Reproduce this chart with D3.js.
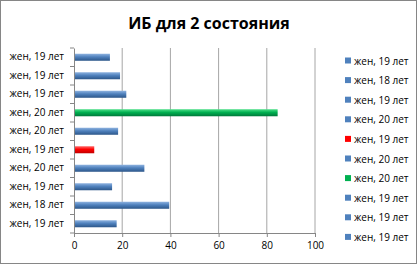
<!DOCTYPE html>
<html>
<head>
<meta charset="utf-8">
<script src="https://cdn.jsdelivr.net/npm/d3@7"></script>
<style>
    body { margin: 0; background: #fff; }
    svg text { font-family: "Open Sans", "Liberation Sans", sans-serif; }
</style>
</head>
<body>
<svg id="chart" width="418" height="265"></svg>
<script>
// категории снизу вверх (как в Excel)
const categories = ["жен, 19 лет", "жен, 18 лет", "жен, 19 лет", "жен, 20 лет", "жен, 19 лет",
                    "жен, 20 лет", "жен, 20 лет", "жен, 19 лет", "жен, 19 лет", "жен, 19 лет"];
const values = [17.7, 39.5, 15.8, 29.2, 8.4, 18.3, 84.5, 21.7, 19.1, 14.9];
const seriesKind = ["blue", "blue", "blue", "blue", "red", "blue", "green", "blue", "blue", "blue"];
const xTicks = [0, 20, 40, 60, 80, 100];
const titleText = "ИБ для 2 состояния";

const palette = {
    blue: ["#8fb3e0", "#4f81bd", "#2c5689"],
    red: ["#ff6a6a", "#ff0000", "#c00000"],
    green: ["#4fe08a", "#00b050", "#00783a"]
};

const svg = d3.select("#chart");
const W = 418, H = 265;
const plot = { left: 74, right: 315, top: 48, bottom: 233 };

// рамка диаграммы
svg.append("rect")
    .attr("x", 0.5).attr("y", 0.5)
    .attr("width", W - 2).attr("height", H - 2)
    .attr("fill", "#fff")
    .attr("stroke", "#868686");

// градиенты для "объёмных" полос
const defs = svg.append("defs");
Object.entries(palette).forEach(([name, c]) => {
    const g = defs.append("linearGradient")
        .attr("id", "grad_" + name)
        .attr("x1", 0).attr("y1", 0).attr("x2", 0).attr("y2", 1);
    g.append("stop").attr("offset", "0%").attr("stop-color", c[0]);
    g.append("stop").attr("offset", "45%").attr("stop-color", c[1]);
    g.append("stop").attr("offset", "100%").attr("stop-color", c[2]);
});

const x = d3.scaleLinear().domain([0, 100]).range([plot.left, plot.right]);
const y = d3.scaleBand().domain(d3.range(categories.length))
    .range([plot.bottom, plot.top]).paddingInner(0.62).paddingOuter(0.31);

// заголовок
svg.append("text")
    .attr("x", 209).attr("y", 29)
    .attr("text-anchor", "middle")
    .style("font-size", "16px").style("font-weight", "bold")
    .text(titleText);

// вертикальная сетка
svg.append("g").selectAll("line")
    .data(xTicks.slice(1))
    .enter().append("line")
    .attr("x1", d => x(d)).attr("x2", d => x(d))
    .attr("y1", plot.top).attr("y2", plot.bottom)
    .attr("stroke", "#a6a6a6").attr("stroke-width", 1);

// полосы
svg.append("g").selectAll("rect")
    .data(values)
    .enter().append("rect")
    .attr("x", x(0))
    .attr("y", (d, i) => y(i))
    .attr("width", d => x(d) - x(0))
    .attr("height", y.bandwidth())
    .attr("fill", (d, i) => "url(#grad_" + seriesKind[i] + ")");

// ось X
const xAxis = svg.append("g")
    .attr("transform", `translate(0,${plot.bottom})`)
    .call(d3.axisBottom(x).tickValues(xTicks).tickSize(4).tickSizeOuter(0).tickPadding(5));
xAxis.select(".domain").attr("stroke", "#868686");
xAxis.selectAll(".tick line").attr("stroke", "#868686");
xAxis.selectAll("text").style("font-size", "10px").attr("fill", "#000");

// ось Y: подписи по центру категорий, засечки по границам
const yAxis = svg.append("g")
    .attr("transform", `translate(${plot.left},0)`)
    .call(d3.axisLeft(y).tickFormat(i => categories[i]).tickSize(0).tickPadding(10));
yAxis.select(".domain").attr("stroke", "#868686");
yAxis.selectAll("text").style("font-size", "10px").attr("fill", "#000");

const step = (plot.bottom - plot.top) / categories.length;
svg.append("g").selectAll("line")
    .data(d3.range(categories.length + 1))
    .enter().append("line")
    .attr("x1", plot.left - 4).attr("x2", plot.left)
    .attr("y1", d => plot.top + d * step).attr("y2", d => plot.top + d * step)
    .attr("stroke", "#868686");

// легенда
const legend = svg.append("g").selectAll("g")
    .data(categories)
    .enter().append("g")
    .attr("transform", (d, i) => `translate(345,${61 + i * 19.6})`);
legend.append("rect")
    .attr("x", 0).attr("y", -3.5)
    .attr("width", 6).attr("height", 6)
    .attr("fill", (d, i) => palette[seriesKind[i]][1]);
legend.append("text")
    .attr("x", 9).attr("y", 0)
    .attr("dy", "0.35em")
    .style("font-size", "10px")
    .text(d => d);
</script>
</body>
</html>
